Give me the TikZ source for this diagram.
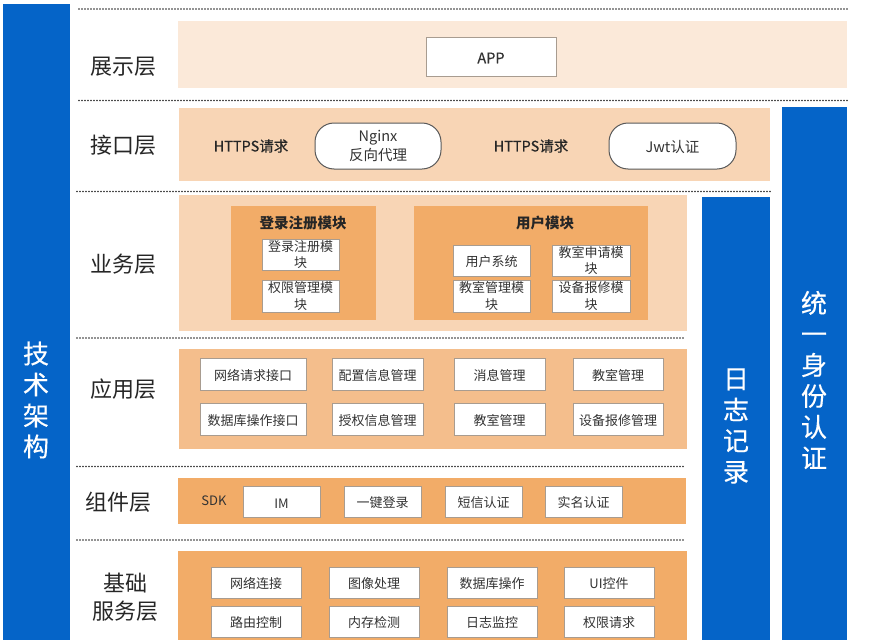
\documentclass[tikz,border=0pt]{standalone}
\usepackage{fontspec}
\setmainfont{Noto Sans CJK SC}
\newfontfamily\medfont[FakeBold=0.35]{Noto Sans CJK SC}
\usetikzlibrary{calc}
\definecolor{barblue}{HTML}{0564C8}
\definecolor{lay1}{HTML}{FBE9D9}
\definecolor{lay2}{HTML}{F8D5B5}
\definecolor{lay3}{HTML}{F4BE8C}
\definecolor{lay4}{HTML}{F2AC68}
\definecolor{edge}{HTML}{A89C90}
\definecolor{ink}{HTML}{333333}
\tikzset{
  x=1pt,y=-1pt,
  rect/.style={anchor=north west,inner sep=0pt,outer sep=0pt},
  bar/.style={rect,fill=barblue},
  bartext/.style={inner sep=0pt,text=white,align=center,font=\medfont\fontsize{26}{31}\selectfont},
  layerbox/.style={rect,fill=#1},
  modbox/.style={rect,draw=edge,line width=1pt,fill=white,text=ink,align=center,font=\fontsize{13}{16.5}\selectfont,execute at begin node={\rule{0pt}{13.5pt}}},
  pill/.style={rect,draw=black!65,line width=1pt,fill=white,rounded corners=19pt,text=ink,align=center,font=\fontsize{14.5}{18.5}\selectfont,execute at begin node={\rule{0pt}{15pt}}},
  layername/.style={inner sep=0pt,text=black!85,align=center,font=\fontsize{22}{27.5}\selectfont},
  plainlabel/.style={inner sep=0pt,text=black!85,font=\medfont\fontsize{14.5}{18}\selectfont},
  headlabel/.style={inner sep=0pt,text=black!85,font=\fontsize{14.5}{18}\selectfont\bfseries},
  sep/.style={line width=1.6pt,black!85,line cap=round,dash pattern=on 0pt off 3pt},
}
% name, x0, y0, x1, y1, style, text
\newcommand{\pbx}[7]{\path let \n1={#4-#2},\n2={#5-#3} in node[#6,minimum width=\n1*1pt,minimum height=\n2*1pt] (#1) at (#2,#3) {#7};}
\begin{document}
\begin{tikzpicture}
\useasboundingbox (0,0) rectangle (873,640);
% bars
\pbx{barL}{3}{4}{70}{640}{bar}{}
\pbx{barR}{782}{107}{847}{640}{bar}{}
\pbx{barM}{702}{197}{770}{640}{bar}{}
\node[bartext] (tL) at (36,400) {技\\术\\架\\构};
\node[bartext] (tR) at (814,380) {统\\一\\身\\份\\认\\证};
\node[bartext] (tM) at (736,426) {日\\志\\记\\录};
% layer panels
\pbx{p1}{178}{21}{847}{88}{layerbox=lay1}{}
\pbx{p2}{179}{108}{770}{181}{layerbox=lay2}{}
\pbx{p3}{179}{195}{687}{331}{layerbox=lay2}{}
\pbx{p4}{179}{349}{687}{449}{layerbox=lay3}{}
\pbx{p5}{178}{478}{686}{524}{layerbox=lay4}{}
\pbx{p6}{178}{551}{687}{640}{layerbox=lay4}{}
% separators
\coordinate (s1a) at (79,9); \coordinate (s1b) at (847,9);
\coordinate (s2a) at (79,100.5); \coordinate (s2b) at (847,100.5);
\coordinate (s3a) at (77,191.5); \coordinate (s3b) at (772,191.5);
\coordinate (s4a) at (77,338); \coordinate (s4b) at (685,338);
\coordinate (s5a) at (77,466.5); \coordinate (s5b) at (685,466.5);
\coordinate (s6a) at (77,540); \coordinate (s6b) at (685,540);
\foreach \i in {1,...,6} \draw[sep] (s\i a) -- (s\i b);
% layer names
\node[layername] (n1) at (123,66.5) {展示层};
\node[layername] (n2) at (123,145.5) {接口层};
\node[layername] (n3) at (123,264.5) {业务层};
\node[layername] (n4) at (123,389.5) {应用层};
\node[layername] (n5) at (118,502.5) {组件层};
\node[layername] (n6) at (125,597) {基础\\服务层};
% presentation
\pbx{app}{426}{37}{556}{76}{modbox}{\medfont\fontsize{14.5}{18}\selectfont APP}
% interface
\node[plainlabel] (h1) at (251,146) {HTTPS请求};
\pbx{ng}{315}{123}{441}{169}{pill}{Nginx\\反向代理}
\node[plainlabel] (h2) at (531,146) {HTTPS请求};
\pbx{jw}{609}{123}{736}{169}{pill}{Jwt认证}
% business
\pbx{m1}{231}{206}{376}{320}{layerbox=lay4}{}
\pbx{m2}{414}{206}{648}{320}{layerbox=lay4}{}
\node[headlabel] (m1t) at (303,222.7) {登录注册模块};
\node[headlabel] (m2t) at (545,222.7) {用户模块};
\pbx{b1}{262}{239}{339}{270}{modbox}{登录注册模\\块}
\pbx{b2}{262}{280}{339}{312}{modbox}{权限管理模\\块}
\pbx{b3}{453}{245}{530}{276}{modbox}{用户系统}
\pbx{b4}{552}{245}{630}{276}{modbox}{教室申请模\\块}
\pbx{b5}{453}{280}{530}{312}{modbox}{教室管理模\\块}
\pbx{b6}{552}{280}{630}{312}{modbox}{设备报修模\\块}
% application
\pbx{a1}{200}{358}{306}{390}{modbox}{网络请求接口}
\pbx{a2}{332}{358}{423}{390}{modbox}{配置信息管理}
\pbx{a3}{454}{358}{545}{390}{modbox}{消息管理}
\pbx{a4}{573}{358}{663}{390}{modbox}{教室管理}
\pbx{a5}{200}{403}{306}{435}{modbox}{数据库操作接口}
\pbx{a6}{332}{403}{423}{435}{modbox}{授权信息管理}
\pbx{a7}{454}{403}{545}{435}{modbox}{教室管理}
\pbx{a8}{573}{403}{663}{435}{modbox}{设备报修管理}
% components
\node[inner sep=0pt,text=ink,font=\fontsize{13}{16}\selectfont] (sdk) at (214,501) {SDK};
\pbx{c1}{243}{486}{320}{517}{modbox}{IM}
\pbx{c2}{344}{486}{421}{517}{modbox}{一键登录}
\pbx{c3}{445}{486}{522}{517}{modbox}{短信认证}
\pbx{c4}{545}{486}{622}{517}{modbox}{实名认证}
% base services
\pbx{d1}{211}{567}{301}{598}{modbox}{网络连接}
\pbx{d2}{329}{567}{419}{598}{modbox}{图像处理}
\pbx{d3}{447}{567}{537}{598}{modbox}{数据库操作}
\pbx{d4}{564}{567}{654}{598}{modbox}{UI控件}
\pbx{d5}{211}{606}{301}{637}{modbox}{路由控制}
\pbx{d6}{329}{606}{419}{637}{modbox}{内存检测}
\pbx{d7}{447}{606}{537}{637}{modbox}{日志监控}
\pbx{d8}{564}{606}{654}{637}{modbox}{权限请求}
\end{tikzpicture}
\end{document}
